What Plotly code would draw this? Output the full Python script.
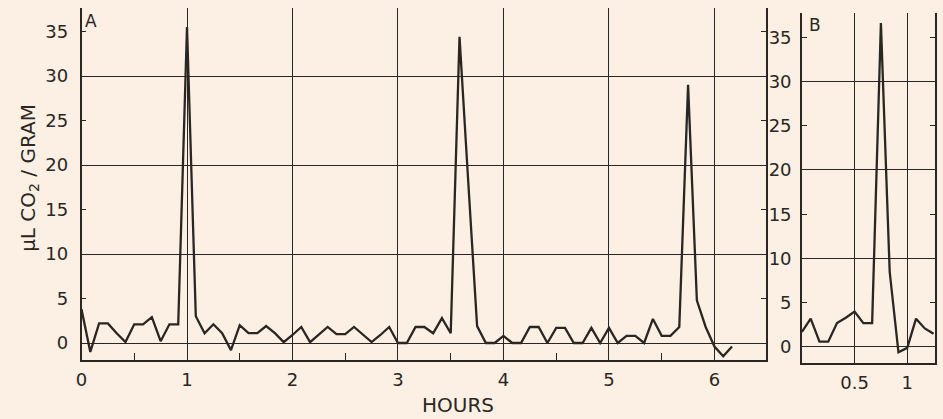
import plotly.graph_objects as go

# ---------------- data ----------------
# Panel A: sampling times (minutes) and CO2 output (µL CO2 / gram)
minutes_a = [0, 5, 10, 15, 20, 25, 30, 35, 40, 45, 50, 55,
             60, 65, 70, 75, 80, 85, 90, 95, 100, 105, 110, 115,
             120, 125, 130, 135, 140, 145, 150, 155, 160, 165, 170, 175,
             180, 185, 190, 195, 200, 205, 210, 215, 220, 225, 230, 235,
             240, 245, 250, 255, 260, 265, 270, 275, 280, 285, 290, 295,
             300, 305, 310, 315, 320, 325, 330, 335, 340, 345, 350, 355,
             360, 365, 370]
co2_a = [3.8, -1.0, 2.2, 2.2, 1.1, 0.1, 2.1, 2.1, 2.9, 0.2, 2.1, 2.1,
         35.5, 3.0, 1.1, 2.1, 1.1, -0.8, 2.0, 1.1, 1.1, 1.9, 1.1, 0.1,
         0.9, 1.8, 0.1, 0.9, 1.8, 1.0, 1.0, 1.8, 0.9, 0.1, 0.9, 1.8,
         0.0, 0.0, 1.8, 1.8, 1.1, 2.8, 1.1, 34.4, 18.0, 1.9, 0.0, 0.0,
         0.8, 0.0, 0.0, 1.8, 1.8, 0.0, 1.7, 1.7, 0.0, 0.0, 1.7, 0.0,
         1.7, 0.0, 0.8, 0.8, 0.0, 2.7, 0.8, 0.8, 1.8, 29.0, 4.8, 1.8,
         -0.4, -1.5, -0.4]

# Panel B
minutes_b = [0, 5, 10, 15, 20, 25, 30, 35, 40, 45, 50, 55, 60, 65, 70, 75]
co2_b = [1.7, 3.2, 0.6, 0.6, 2.7, 3.3, 4.0, 2.7, 2.7, 36.6, 8.5, -0.6,
         -0.1, 3.2, 2.1, 1.5]

hour_ticks_a = [0, 1, 2, 3, 4, 5, 6]
hour_labels_a = ["0", "1", "2", "3", "4", "5", "6"]
half_hours_a = [0.5, 1.5, 2.5, 3.5, 4.5, 5.5]
hour_ticks_b = [0.5, 1]
hour_labels_b = ["0.5", "1"]
y_ticks = [0, 5, 10, 15, 20, 25, 30, 35]
y_grid = [0, 10, 20, 30]
y_minor = [5, 15, 25, 35]

# ---------------- style ----------------
INK = "#2b2622"
BG = "#fbf0e3"
FONT = "DejaVu Sans"
W, H = 943, 419

hours_a = [m / 60 for m in minutes_a]
hours_b = [m / 60 for m in minutes_b]

fig = go.Figure()
fig.add_trace(go.Scatter(x=hours_a, y=co2_a, mode="lines",
                         line=dict(color=INK, width=2.3),
                         xaxis="x", yaxis="y", showlegend=False, hoverinfo="skip"))
fig.add_trace(go.Scatter(x=hours_b, y=co2_b, mode="lines",
                         line=dict(color=INK, width=2.3),
                         xaxis="x2", yaxis="y2", showlegend=False, hoverinfo="skip"))
# empty traces so the overlay (grid / right-edge) axes are rendered
fig.add_trace(go.Scatter(x=[None], y=[None], xaxis="x", yaxis="y3",
                         showlegend=False, hoverinfo="skip"))
fig.add_trace(go.Scatter(x=[None], y=[None], xaxis="x2", yaxis="y4",
                         showlegend=False, hoverinfo="skip"))

axis_common = dict(color=INK, linecolor=INK, linewidth=1.5, gridcolor=INK,
                   gridwidth=1.1, zeroline=False, tickcolor=INK,
                   tickfont=dict(family=FONT, size=18, color=INK), fixedrange=True)

ya_range = [-1.91, 37.64]
yb_range = [-1.81, 37.74]

fig.update_layout(
    width=W, height=H,
    margin=dict(l=0, r=0, t=0, b=0),
    paper_bgcolor=BG, plot_bgcolor=BG,
    font=dict(family=FONT, color=INK),
    xaxis=dict(domain=[76 / W, 765 / W], range=[0, 6.49], anchor="y",
               tickmode="array", tickvals=hour_ticks_a, ticktext=hour_labels_a,
               showgrid=True, showline=True, ticks="", ticklabelstandoff=3,
               minor=dict(tickmode="array", tickvals=half_hours_a, ticks="inside",
                          ticklen=7, tickwidth=1.3, tickcolor=INK, showgrid=False),
               **axis_common),
    yaxis=dict(domain=[1 - 360 / H, 1 - 8 / H], range=ya_range, anchor="x",
               tickmode="array", tickvals=y_ticks, ticks="inside", ticklen=5,
               tickwidth=1.3, showgrid=False, showline=True, ticklabelstandoff=8,
               **axis_common),
    yaxis3=dict(overlaying="y", side="right", anchor="x", range=ya_range,
                tickmode="array", tickvals=y_grid, showticklabels=False, ticks="",
                showgrid=True, showline=True,
                minor=dict(tickmode="array", tickvals=y_minor, ticks="inside",
                           ticklen=5, tickwidth=1.3, tickcolor=INK, showgrid=False),
                **axis_common),
    xaxis2=dict(domain=[801 / W, 935 / W], range=[0, 1.264], anchor="y2",
                tickmode="array", tickvals=hour_ticks_b, ticktext=hour_labels_b,
                showgrid=True, showline=True, ticks="", ticklabelstandoff=3,
                **axis_common),
    yaxis2=dict(domain=[1 - 363 / H, 1 - 13 / H], range=yb_range, anchor="x2",
                tickmode="array", tickvals=y_ticks, ticks="inside", ticklen=5,
                tickwidth=1.3, showgrid=False, showline=True, ticklabelstandoff=5,
                **axis_common),
    yaxis4=dict(overlaying="y2", side="right", anchor="x2", range=yb_range,
                tickmode="array", tickvals=y_grid, showticklabels=False, ticks="",
                showgrid=True, showline=True,
                minor=dict(tickmode="array", tickvals=y_minor, ticks="inside",
                           ticklen=5, tickwidth=1.3, tickcolor=INK, showgrid=False),
                **axis_common),
    annotations=[
        dict(text="A", x=86 / W, y=1 - 21 / H, xref="paper", yref="paper",
             xanchor="center", yanchor="middle",
             showarrow=False, font=dict(family=FONT, size=17, color=INK)),
        dict(text="B", x=814 / W, y=1 - 25 / H, xref="paper", yref="paper",
             xanchor="center", yanchor="middle",
             showarrow=False, font=dict(family=FONT, size=17, color=INK)),
        dict(text="µL CO<sub>2</sub> / GRAM", x=23 / W, y=1 - 178 / H,
             xref="paper", yref="paper", textangle=-90, showarrow=False,
             xanchor="center", yanchor="middle",
             font=dict(family=FONT, size=20, color=INK)),
        dict(text="HOURS", x=455 / W, y=1 - 405 / H, xref="paper", yref="paper",
             xanchor="center", yanchor="middle",
             showarrow=False, font=dict(family=FONT, size=20, color=INK)),
    ],
)

fig.write_html("out.html")
